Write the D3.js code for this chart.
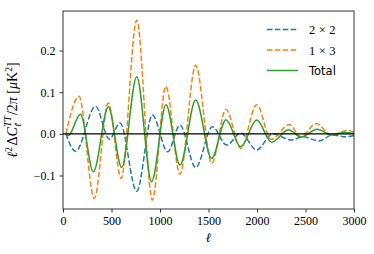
<!DOCTYPE html>
<html>
<head>
<meta charset="utf-8">
<script src="https://cdn.jsdelivr.net/npm/d3@7"></script>
<style>
  body { margin: 0; background: #fff; }
  svg text { font-family: "Liberation Serif", serif; fill: #000; }
</style>
</head>
<body>
<div id="chart"></div>
<script>
// extrema: [ell, value]
var series2x2 = [[30,0],[130,-0.042],[335,0.066],[478,-0.013],[588,0.026],[760,-0.138],[921,0.045],[1079,-0.043],[1206,0.021],[1368,-0.081],[1540,0.017],[1687,-0.027],[1832,0.002],[1997,-0.039],[2160,0.000],[2357,-0.015],[2470,-0.007],[2640,-0.017],[2775,-0.003],[2920,-0.007],[3000,-0.004]];
var series1x3 = [[30,0],[165,0.090],[323,-0.155],[467,0.074],[600,-0.107],[760,0.273],[921,-0.159],[1060,0.114],[1206,-0.097],[1368,0.165],[1533,-0.071],[1680,0.059],[1832,-0.035],[1997,0.070],[2145,-0.013],[2335,0.022],[2450,-0.007],[2610,0.025],[2765,-0.003],[2930,0.008],[3000,0.005]];
var seriesTotal = [[30,0],[55,-0.004],[180,0.047],[313,-0.091],[467,0.065],[605,-0.081],[760,0.137],[914,-0.115],[1062,0.070],[1206,-0.075],[1368,0.081],[1533,-0.059],[1680,0.034],[1832,-0.031],[1997,0.033],[2151,-0.020],[2325,0.010],[2455,-0.008],[2620,0.011],[2770,-0.003],[2900,0.003],[3000,0.001]];

var xTicks = [0, 500, 1000, 1500, 2000, 2500, 3000];
var yTicks = [-0.1, 0.0, 0.1, 0.2];

var W = 374, H = 254;
var margin = {top: 11, right: 20, bottom: 45, left: 63}
  , width = W - margin.left - margin.right
  , height = H - margin.top - margin.bottom;

var xScale = d3.scaleLinear().domain([0, 3000]).range([0, width]);
var yScale = d3.scaleLinear().domain([-0.1805, 0.295]).range([height, 0]);

var svg = d3.select("#chart").append("svg")
    .attr("width", W)
    .attr("height", H);

var g = svg.append("g")
    .attr("transform", "translate(" + margin.left + "," + margin.top + ")");

var line = d3.line()
    .x(function(d) { return xScale(d[0]); })
    .y(function(d) { return yScale(d[1]); })
    .curve(d3.curveMonotoneX);

var fmtY = function(d) { return (d < 0 ? "\u2212" : "") + Math.abs(d).toFixed(1); };

// x axis
var xAxis = g.append("g")
    .attr("transform", "translate(0," + height + ")")
    .call(d3.axisBottom(xScale).tickValues(xTicks).tickSize(3.5).tickPadding(4).tickFormat(d3.format("d")));
// y axis
var yAxis = g.append("g")
    .call(d3.axisLeft(yScale).tickValues(yTicks).tickSize(3.5).tickPadding(4).tickFormat(fmtY));

[xAxis, yAxis].forEach(function(a) {
    a.attr("font-family", null);
    a.select(".domain").remove();
    a.selectAll("line").attr("stroke", "#000").attr("stroke-width", 0.8);
    a.selectAll("text")
        .style("font-family", "'Liberation Serif', serif")
        .attr("font-size", 12).attr("fill", "#000");
});

var lines = [
    {data: series2x2, color: "#1f77b4", dash: "5.5,2.4"},
    {data: series1x3, color: "#ff7f0e", dash: "5.5,2.4"},
    {data: seriesTotal, color: "#2ca02c", dash: null}
];

lines.forEach(function(s) {
    g.append("path")
        .datum(s.data)
        .attr("d", line)
        .attr("fill", "none")
        .attr("stroke", s.color)
        .attr("stroke-width", 1.5)
        .attr("stroke-dasharray", s.dash);
});

// zero line
g.append("line")
    .attr("x1", 0).attr("x2", width)
    .attr("y1", yScale(0)).attr("y2", yScale(0))
    .attr("stroke", "#000").attr("stroke-width", 1.2);

// frame
g.append("rect")
    .attr("width", width).attr("height", height)
    .attr("fill", "none").attr("stroke", "#000").attr("stroke-width", 0.8);

// legend
var legend = [
    {label: ["2", "\u00d7", "2"], color: "#1f77b4", dash: "5.5,2.4"},
    {label: ["1", "\u00d7", "3"], color: "#ff7f0e", dash: "5.5,2.4"},
    {label: "Total", color: "#2ca02c", dash: null}
];
legend.forEach(function(l, i) {
    var y = 29.5 + i * 20.5;
    svg.append("line")
        .attr("x1", 267).attr("x2", 298).attr("y1", y).attr("y2", y)
        .attr("stroke", l.color).attr("stroke-width", 1.5)
        .attr("stroke-dasharray", l.dash);
    var t = svg.append("text").attr("x", 309).attr("y", y + 4.5).attr("font-size", 12.5);
    if (typeof l.label === "string") {
        t.style("font-family", "DejaVu Sans").attr("font-size", 11.5).text(l.label);
    } else {
        t.append("tspan").text(l.label[0]);
        t.append("tspan").attr("dx", 3.5).text(l.label[1]);
        t.append("tspan").attr("dx", 3.5).text(l.label[2]);
    }
});

// x label
svg.append("text")
    .attr("x", margin.left + width / 2).attr("y", 242)
    .attr("text-anchor", "middle")
    .attr("font-size", 13).attr("font-style", "italic")
    .text("\u2113");

// y label
var yl = svg.append("text")
    .attr("transform", "translate(17," + (margin.top + height / 2) + ") rotate(-90)")
    .attr("text-anchor", "middle")
    .attr("font-size", 14);
yl.append("tspan").attr("font-style", "italic").text("\u2113");
yl.append("tspan").attr("font-size", 9.5).attr("dy", -5.5).text("2");
yl.append("tspan").attr("dy", 5.5).attr("dx", 1.5).text("\u0394");
yl.append("tspan").attr("font-style", "italic").text("C");
yl.append("tspan").attr("font-size", 9.5).attr("font-style", "italic").attr("dy", -6).attr("dx", 0.5).text("TT");
yl.append("tspan").attr("font-size", 9.5).attr("font-style", "italic").attr("dy", 10).attr("dx", -11).text("\u2113");
yl.append("tspan").attr("dy", -4).attr("dx", 8).text("/2");
yl.append("tspan").attr("font-style", "italic").text("\u03c0");
yl.append("tspan").attr("dx", 3.5).text("[");
yl.append("tspan").attr("font-style", "italic").text("\u03bc");
yl.append("tspan").text("K");
yl.append("tspan").attr("font-size", 9.5).attr("dy", -5.5).text("2");
yl.append("tspan").attr("dy", 5.5).text("]");
</script>
</body>
</html>
